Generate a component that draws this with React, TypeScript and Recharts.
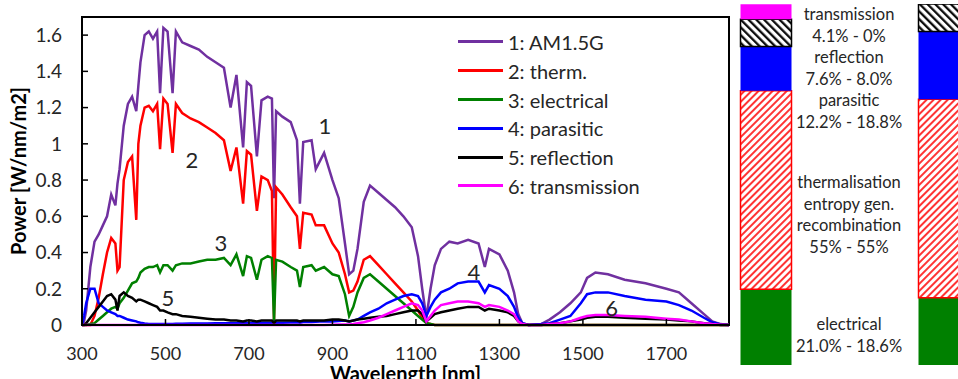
import React from "react";
import {
  LineChart,
  Line,
  XAxis,
  YAxis,
  ReferenceArea,
  ReferenceDot,
  Legend,
  BarChart,
  Bar,
} from "recharts";

const FONT = "Lato, 'Open Sans', sans-serif";
const INK = "#262626";

// wavelength grid [nm] (denser around the absorption bands)
const wavelengths = [
  300, 305, 310, 320, 330, 340, 350, 360, 370, 380,
  385, 390, 400, 410, 420, 430, 435, 440, 450, 460,
  470, 480, 487, 495, 505, 517, 525, 540, 560, 580,
  600, 620, 640, 656, 670, 686, 695, 705, 719, 730,
  745, 755, 760, 765, 780, 800, 815, 822, 830, 850,
  860, 880, 900, 915, 930, 940, 950, 960, 975, 990,
  1010, 1030, 1050, 1070, 1090, 1105, 1115, 1125, 1135, 1145,
  1160, 1180, 1200, 1225, 1250, 1265, 1275, 1300, 1320, 1335,
  1345, 1355, 1370, 1400, 1420, 1445, 1470, 1495, 1510, 1530,
  1560, 1600, 1650, 1700, 1730, 1760, 1790, 1810, 1830, 1850,
];

const am15g = [
  0, 0.02, 0.08, 0.32, 0.46, 0.5, 0.55, 0.6, 0.72, 0.66,
  0.78, 0.86, 1.1, 1.22, 1.26, 1.18, 1.32, 1.45, 1.6, 1.62,
  1.58, 1.62, 1.28, 1.64, 1.62, 1.28, 1.62, 1.56, 1.54, 1.52,
  1.48, 1.45, 1.42, 1.2, 1.38, 0.98, 1.34, 1.32, 0.93, 1.24,
  1.26, 1.25, 0.7, 1.18, 1.15, 1.12, 1.02, 0.67, 1.01, 1.02,
  0.86, 0.95, 0.8, 0.7, 0.45, 0.28, 0.3, 0.42, 0.68, 0.77,
  0.73, 0.69, 0.65, 0.6, 0.54, 0.38, 0.2, 0.04, 0.2, 0.33,
  0.42, 0.46, 0.45, 0.47, 0.45, 0.32, 0.42, 0.39, 0.3, 0.18,
  0.06, 0.01, 0, 0.005, 0.03, 0.07, 0.12, 0.18, 0.26, 0.29,
  0.28, 0.25, 0.23, 0.2, 0.18, 0.12, 0.06, 0.02, 0.005, 0,
];

const therm = [
  0, 0, 0, 0, 0.05, 0.15, 0.28, 0.4, 0.48, 0.45,
  0.3, 0.32, 0.8, 0.9, 0.93, 0.58, 1.0, 1.1, 1.2, 1.21,
  1.18, 1.22, 0.97, 1.25, 1.22, 0.95, 1.22, 1.17, 1.14, 1.12,
  1.09, 1.06, 1.02, 0.85, 0.98, 0.67, 0.96, 0.94, 0.63, 0.82,
  0.8, 0.74, 0.03, 0.76, 0.72, 0.65, 0.6, 0.42, 0.62, 0.61,
  0.55, 0.55, 0.45, 0.4, 0.28, 0.18, 0.19, 0.24, 0.36, 0.38,
  0.33, 0.28, 0.23, 0.18, 0.13, 0.08, 0.04, 0.01, 0.005, 0,
  0, 0, 0, 0, 0, 0, 0, 0, 0, 0,
  0, 0, 0, 0, 0, 0, 0, 0, 0, 0,
  0, 0, 0, 0, 0, 0, 0, 0, 0, 0,
];

const electrical = [
  0, 0, 0, 0.005, 0.01, 0.03, 0.05, 0.07, 0.09, 0.1,
  0.09, 0.12, 0.15, 0.19, 0.23, 0.24, 0.26, 0.29, 0.31, 0.32,
  0.32, 0.33, 0.29, 0.33, 0.33, 0.3, 0.33, 0.34, 0.34, 0.35,
  0.36, 0.36, 0.37, 0.33, 0.39, 0.27, 0.38, 0.37, 0.25, 0.36,
  0.38, 0.37, 0.02, 0.36, 0.35, 0.32, 0.3, 0.21, 0.32, 0.33,
  0.3, 0.32, 0.28, 0.27, 0.17, 0.05, 0.1, 0.18, 0.26, 0.28,
  0.24, 0.2, 0.16, 0.12, 0.08, 0.05, 0.03, 0.01, 0.005, 0,
  0, 0, 0, 0, 0, 0, 0, 0, 0, 0,
  0, 0, 0, 0, 0, 0, 0, 0, 0, 0,
  0, 0, 0, 0, 0, 0, 0, 0, 0, 0,
];

const parasitic = [
  0, 0.05, 0.12, 0.2, 0.2, 0.12, 0.1, 0.08, 0.07, 0.06,
  0.05, 0.05, 0.04, 0.03, 0.025, 0.02, 0.015, 0.012, 0.008, 0.005,
  0.005, 0.005, 0.005, 0.005, 0.006, 0.006, 0.007, 0.007, 0.008, 0.008,
  0.008, 0.009, 0.009, 0.009, 0.01, 0.01, 0.01, 0.01, 0.01, 0.012,
  0.012, 0.012, 0.008, 0.012, 0.013, 0.014, 0.015, 0.012, 0.016, 0.017,
  0.018, 0.02, 0.02, 0.022, 0.025, 0.02, 0.025, 0.03, 0.05, 0.07,
  0.09, 0.12, 0.14, 0.16, 0.17, 0.16, 0.12, 0.05, 0.1, 0.14,
  0.18, 0.2, 0.23, 0.24, 0.24, 0.18, 0.22, 0.2, 0.16, 0.1,
  0.04, 0.01, 0, 0.005, 0.01, 0.03, 0.05, 0.12, 0.17, 0.18,
  0.18, 0.16, 0.14, 0.13, 0.11, 0.08, 0.04, 0.015, 0.003, 0,
];

const reflection = [
  0, 0, 0.01, 0.04, 0.07, 0.1, 0.13, 0.16, 0.17, 0.14,
  0.08, 0.16, 0.18, 0.16, 0.15, 0.13, 0.14, 0.14, 0.13, 0.12,
  0.11, 0.1, 0.08, 0.08, 0.07, 0.06, 0.06, 0.05, 0.045, 0.04,
  0.035, 0.03, 0.03, 0.025, 0.025, 0.02, 0.025, 0.025, 0.02, 0.025,
  0.025, 0.025, 0.01, 0.025, 0.025, 0.025, 0.025, 0.02, 0.025, 0.025,
  0.025, 0.025, 0.03, 0.03, 0.025, 0.02, 0.025, 0.03, 0.035, 0.04,
  0.045, 0.05, 0.06, 0.07, 0.08, 0.08, 0.06, 0.02, 0.04, 0.06,
  0.07, 0.08, 0.09, 0.1, 0.1, 0.08, 0.09, 0.08, 0.07, 0.05,
  0.02, 0.005, 0, 0, 0.005, 0.01, 0.02, 0.03, 0.04, 0.045,
  0.045, 0.04, 0.035, 0.03, 0.025, 0.02, 0.01, 0.005, 0, 0,
];

const transmission = [
  0, 0, 0, 0, 0, 0, 0, 0, 0, 0,
  0, 0, 0, 0, 0, 0, 0, 0, 0, 0,
  0, 0, 0, 0, 0, 0, 0, 0, 0, 0,
  0, 0, 0, 0, 0, 0, 0, 0, 0, 0,
  0, 0, 0, 0, 0, 0, 0, 0, 0, 0,
  0, 0, 0.002, 0.003, 0.003, 0.003, 0.005, 0.01, 0.015, 0.025,
  0.04, 0.06, 0.08, 0.1, 0.12, 0.11, 0.08, 0.02, 0.05, 0.08,
  0.11, 0.12, 0.13, 0.13, 0.12, 0.1, 0.11, 0.1, 0.08, 0.06,
  0.02, 0.005, 0, 0, 0.005, 0.01, 0.02, 0.04, 0.05, 0.055,
  0.055, 0.05, 0.045, 0.035, 0.03, 0.02, 0.01, 0.005, 0.002, 0,
];

const xTicks = [300, 500, 700, 900, 1100, 1300, 1500, 1700];
const yTicks = [0, 0.2, 0.4, 0.6, 0.8, 1, 1.2, 1.4, 1.6];

// curve numbers written next to the lines
const curveTags = [
  { tag: "1", wl: 882, val: 1.1 },
  { tag: "2", wl: 563, val: 0.91 },
  { tag: "3", wl: 633, val: 0.45 },
  { tag: "4", wl: 1239, val: 0.29 },
  { tag: "5", wl: 506, val: 0.15 },
  { tag: "6", wl: 1569, val: 0.094 },
];

const series = [
  { key: "am15g", name: "1: AM1.5G", color: "#7030A0" },
  { key: "therm", name: "2: therm.", color: "#FF0000" },
  { key: "electrical", name: "3: electrical", color: "#008000" },
  { key: "parasitic", name: "4: parasitic", color: "#0000FF" },
  { key: "reflection", name: "5: reflection", color: "#000000" },
  { key: "transmission", name: "6: transmission", color: "#FF00FF" },
];

const spectrum = wavelengths.map((wl, i) => ({
  wl,
  am15g: am15g[i],
  therm: therm[i],
  electrical: electrical[i],
  parasitic: parasitic[i],
  reflection: reflection[i],
  transmission: transmission[i],
}));

// loss breakdown bars (%), left bar / right bar
const barSlots = [0, 1];
const barElectrical = [21.0, 18.6];
const barThermal = [55, 55];
const barParasitic = [12.2, 18.8];
const barReflection = [7.6, 8.0];
const barTransmission = [4.1, 0];

const barData = barSlots.map((slot, i) => ({
  slot,
  electrical: barElectrical[i],
  thermal: barThermal[i],
  parasitic: barParasitic[i],
  reflection: barReflection[i],
  transmission: barTransmission[i],
}));

const pct = (a: number[], digits: number) =>
  a.map((v) => (v === 0 ? "0" : v.toFixed(digits)) + "%").join(" - ");

const renderLegend = () => (
  <div style={{ fontFamily: FONT, fontSize: 20, color: INK }}>
    {series.map((s) => (
      <div key={s.key} style={{ display: "flex", alignItems: "center", height: 28.8 }}>
        <span style={{ display: "inline-block", width: 45, height: 3, background: s.color, marginRight: 5 }} />
        <span>{s.name}</span>
      </div>
    ))}
  </div>
);

const textBlock: React.CSSProperties = {
  position: "absolute",
  left: 784,
  width: 130,
  textAlign: "center",
  fontFamily: FONT,
  fontSize: 16.5,
  lineHeight: "21.6px",
  color: INK,
};

export default function App() {
  return (
    <div style={{ position: "absolute", left: 0, top: 0, width: 958, height: 379, overflow: "hidden", background: "#fff" }}>
      <div style={{ position: "absolute", left: 0, top: 0 }}>
        <LineChart width={735} height={379} data={spectrum} margin={{ top: 17, right: 6, bottom: 0, left: 12 }}>
          <XAxis
            type="number"
            dataKey="wl"
            domain={[300, 1850]}
            ticks={xTicks}
            height={54}
            tickSize={-6}
            tickMargin={28}
            axisLine={{ stroke: "#000", strokeWidth: 2 }}
            tickLine={{ stroke: "#000", strokeWidth: 1.5 }}
            tick={{ fill: INK, fontSize: 18, fontFamily: FONT }}
            label={{ value: "Wavelength [nm]", position: "insideBottom", offset: -2, fill: "#000", fontSize: 20, fontWeight: "bold", fontFamily: FONT }}
          />
          <YAxis
            type="number"
            domain={[0, 1.7]}
            ticks={yTicks}
            width={70}
            tickSize={-6}
            tickMargin={26}
            axisLine={{ stroke: "#000", strokeWidth: 2 }}
            tickLine={{ stroke: "#000", strokeWidth: 1.5 }}
            tick={{ fill: INK, fontSize: 19, fontFamily: FONT }}
            label={{ value: "Power [W/nm/m2]", angle: -90, position: "insideLeft", offset: 7, fill: "#000", fontSize: 20, fontWeight: "bold", fontFamily: FONT, style: { textAnchor: "middle" } }}
          />
          <ReferenceArea x1={300} x2={1850} y1={0} y2={1.7} fill="none" stroke="#000" strokeWidth={2} />
          {series.map((s) => (
            <Line
              key={s.key}
              dataKey={s.key}
              name={s.name}
              stroke={s.color}
              strokeWidth={2.5}
              dot={false}
              type="linear"
              isAnimationActive={false}
            />
          ))}
          {curveTags.map((t) => (
            <ReferenceDot
              key={t.tag}
              x={t.wl}
              y={t.val}
              r={0}
              fill="none"
              stroke="none"
              label={{ value: t.tag, position: "center", fill: INK, fontSize: 22, fontFamily: FONT }}
            />
          ))}
          <Legend
            layout="vertical"
            align="center"
            verticalAlign="middle"
            content={renderLegend}
            wrapperStyle={{ left: 458, top: 27.6, width: 220 }}
          />
        </LineChart>
      </div>

      <div style={{ position: "absolute", left: 735, top: 0 }}>
        <BarChart width={260} height={379} data={barData} margin={{ top: 4, right: 0, bottom: 14, left: 0 }}>
          <defs>
            <pattern id="hatchRed" patternUnits="userSpaceOnUse" width="5" height="5" patternTransform="rotate(45)">
              <rect width="5" height="5" fill="#fff" />
              <line x1="1" y1="0" x2="1" y2="5" stroke="#FF0000" strokeWidth="1.6" />
            </pattern>
            <pattern id="hatchBlack" patternUnits="userSpaceOnUse" width="5.5" height="5.5" patternTransform="rotate(-45)">
              <rect width="5.5" height="5.5" fill="#fff" />
              <line x1="1.2" y1="0" x2="1.2" y2="5.5" stroke="#000" strokeWidth="2.2" />
            </pattern>
          </defs>
          <XAxis type="number" dataKey="slot" domain={[0, 1]} hide padding={{ left: 30.5, right: 51.5 }} />
          <YAxis type="number" domain={[0, 100]} hide allowDataOverflow />
          <Bar dataKey="electrical" stackId="s" barSize={51} fill="#008000" isAnimationActive={false} />
          <Bar dataKey="thermal" stackId="s" barSize={51} fill="url(#hatchRed)" stroke="#FF0000" strokeWidth={1.5} isAnimationActive={false} />
          <Bar dataKey="parasitic" stackId="s" barSize={51} fill="#0000FF" isAnimationActive={false} />
          <Bar dataKey="reflection" stackId="s" barSize={51} fill="url(#hatchBlack)" stroke="#000" strokeWidth={1.5} isAnimationActive={false} />
          <Bar dataKey="transmission" stackId="s" barSize={51} fill="#FF00FF" isAnimationActive={false} />
        </BarChart>
      </div>

      <div style={{ ...textBlock, top: 4 }}>
        <div>transmission</div>
        <div>{pct(barTransmission, 1)}</div>
        <div>reflection</div>
        <div>{pct(barReflection, 1)}</div>
        <div>parasitic</div>
        <div>{pct(barParasitic, 1)}</div>
      </div>
      <div style={{ ...textBlock, top: 172 }}>
        <div>thermalisation</div>
        <div>entropy gen.</div>
        <div>recombination</div>
        <div>{pct(barThermal, 0)}</div>
      </div>
      <div style={{ ...textBlock, top: 314 }}>
        <div>electrical</div>
        <div>{pct(barElectrical, 1)}</div>
      </div>
    </div>
  );
}
